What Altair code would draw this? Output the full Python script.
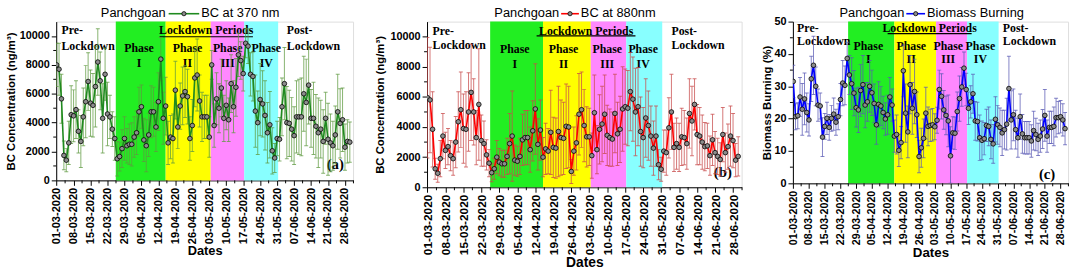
import altair as alt
import pandas as pd

START = pd.Timestamp("2020-03-01")

tick_labels = ["01-03-2020", "08-03-2020", "15-03-2020", "22-03-2020", "29-03-2020",
               "05-04-2020", "12-04-2020", "19-04-2020", "26-04-2020", "03-05-2020",
               "10-05-2020", "17-05-2020", "24-05-2020", "31-05-2020", "07-06-2020",
               "14-06-2020", "21-06-2020", "28-06-2020"]

# phase boundaries (days after 01-03-2020)
phase_bounds = [24.4, 45.0, 63.6, 77.4, 91.4]
phase_colors = ["#22ee22", "#ffff00", "#ff88ff", "#88ffff"]
phase_numerals = ["I", "II", "III", "IV"]

# ---------------- BC at 370 nm (ng/m3) ----------------
bc370 = [8000, 7700, 5650, 1730, 1400, 2600, 4550, 4470, 4900, 3400, 2700, 4400, 5450, 6850, 5350, 5200, 6500, 8200, 6900, 4300, 7350, 4600, 4400, 3550,
         2900, 1500, 1650, 2200, 2900, 2400, 2500, 2500, 3000, 3300, 4750, 5100, 2800, 2400, 3150, 4750, 4750, 3700, 5450, 8400, 4300,
         5150, 2600, 3000, 2900, 6250, 3700, 5150, 5850, 6150, 5800, 2900, 3800, 7100, 7300, 5500, 4400, 4400, 4400, 3000,
         8000, 3800, 5650, 5000, 6400, 4300, 5200, 4200, 6700, 5100, 6450, 8700, 8300, 7400,
         9500, 9300, 7350, 7200, 4800, 4000, 5600, 5300, 4500, 3300, 3850, 2050, 1550, 2900,
         2850, 5100, 6700, 4000, 3950, 3550, 3100, 4400, 4400, 4400, 6000, 5400, 6600, 4300, 4300, 3750, 3300, 3550, 2700, 4300, 2850, 2600, 2400, 3150, 4750, 3950, 4200, 2300, 2700, 2650]
bc370_err = [1500, 1800, 1700, 1000, 800, 1500, 2000, 1800, 2000, 1500, 1800, 2000, 2500, 2000, 2300, 2200, 2800, 2300, 2000, 2400, 1800, 2200, 1500, 1200,
             1500, 1200, 1000, 1300, 1500, 1200, 1400, 1500, 1400, 1500, 1700, 1500, 1500, 1800, 1500, 1800, 1700, 1700, 2000, 1500, 1800,
             2000, 1500, 1500, 1700, 2000, 1500, 1600, 2000, 1800, 1900, 1500, 1800, 2000, 2500, 1800, 1700, 1500, 1500, 1400,
             1000, 1500, 1800, 1700, 2000, 1600, 1700, 1500, 2000, 1800, 2000, 1500, 1300, 1200,
             1000, 1200, 1500, 1700, 2500, 2200, 2500, 2300, 2400, 2100, 2300, 1600, 1000, 1200,
             1500, 2000, 2500, 2500, 2300, 2200, 2000, 2500, 2600, 2700, 2600, 3000, 2700, 2000, 2500, 2200, 2400, 2000, 2200, 1800, 2500, 2000, 1700, 2000, 2600, 2400, 2200, 1600, 1500, 1400]

# ---------------- BC at 880 nm (ng/m3) ----------------
bc880 = [5950, 5800, 3850, 1230, 930, 1900, 3400, 2450, 2700, 2100, 1900, 3000, 4350, 5150, 3900, 3850, 5000, 6300, 5000, 3300, 5500, 3100, 2900, 2150,
         1600, 970, 1230, 2000, 1670, 1560, 1560, 2050, 2900, 3400, 1800, 1730, 2050, 3150, 3300, 3300, 2500, 3750, 5200, 2850, 3800,
         2000, 2550, 2400, 3650, 2650, 2600, 3700, 3300, 3250, 4050, 4000, 1050, 2400, 2950, 4850, 5150, 4100, 3350, 3350,
         2100, 4950, 2500, 3850, 4200, 4850, 3450, 3300, 3200, 4900, 3550, 3850, 5200, 5350,
         5250, 6350, 5850, 5000, 5350, 3700, 3300, 4600, 4100, 3400, 2600, 3400, 1500, 1200,
         2400, 2300, 3950, 5000, 2650, 2900, 2650, 3350, 3300, 2900, 4900, 4400, 5500, 3500, 3400, 3000, 2700, 2750, 2100, 3150, 2300, 2050, 1850, 3500, 2300, 2700, 3400, 3100, 1800, 2050]
bc880_err = [4000, 3500, 2500, 700, 600, 1200, 1500, 1200, 1200, 1000, 1100, 1700, 2000, 2500, 2300, 2500, 2600, 3200, 2200, 1800, 3700, 1700, 1500, 1000,
             900, 600, 700, 1100, 900, 900, 900, 1200, 2000, 3000, 1000, 1000, 1200, 1700, 1800, 1800, 1500, 2000, 3000, 1700, 2000,
             1300, 1700, 1500, 2800, 2000, 2000, 3000, 2500, 2400, 2800, 2700, 800, 1600, 1800, 2700, 2500, 2400, 2000, 1900,
             1500, 2500, 1600, 2300, 2500, 2600, 2000, 1900, 1800, 2600, 2100, 2200, 2800, 2500,
             2500, 2600, 2800, 2900, 2600, 2300, 2000, 2600, 2300, 2000, 1800, 2000, 1000, 800,
             1400, 1500, 2000, 2500, 1600, 1700, 1600, 1900, 1800, 1700, 2300, 2300, 1700, 2000, 1900, 1800, 1600, 1500, 1300, 1700, 1400, 1200, 1100, 1800, 1300, 1500, 2000, 1800, 1100, 1300]

# ---------------- Biomass burning (%) ----------------
bb = [31.5, 20.6, 20.9, 26.7, 22.9, 26.1, 21.9, 19.6, 32.3, 36.5, 30.0, 24.2, 23.9, 14.3, 17.6, 20.1, 17.3, 20.1, 21.4, 18.9, 20.6, 25.9, 31.0, 30.3,
      38.6, 33.5, 30.8, 27.9, 23.4, 22.7, 28.7, 30.5, 24.2, 25.2, 30.0, 28.0, 24.7, 18.1, 24.4, 23.9, 21.9, 19.9, 21.2, 26.7, 24.2,
      14.6, 15.1, 10.2, 12.6, 34.8, 21.7, 15.9, 30.5, 23.2, 28.4, 21.2, 8.3, 11.0, 13.9, 21.7, 17.6, 17.9, 18.1, 17.5,
      19.5, 29.0, 26.9, 22.7, 21.0, 19.3, 8.5, 15.6, 15.5, 22.2, 26.2, 29.8, 35.6, 29.0,
      23.2, 25.2, 27.7, 19.3, 19.1, 14.1, 13.3, 13.8, 17.9, 17.6, 13.6, 12.2, 19.8, 18.1,
      17.3, 15.6, 16.6, 18.3, 29.3, 19.6, 21.2, 16.6, 14.1, 20.6, 15.3, 14.1, 14.1, 14.1, 13.1, 16.3, 15.1, 13.6, 14.6, 16.8, 21.0, 14.6, 17.3, 17.3, 17.6, 20.3, 20.3, 20.6, 19.6, 16.9]
bb_err = [5, 4, 4, 6, 8, 8, 6, 5, 7, 9, 6, 5, 4, 6, 4, 5, 4, 4, 5, 4, 4, 5, 7, 6,
          5, 6, 8, 7, 6, 7, 8, 9, 7, 6, 8, 7, 6, 6, 7, 6, 5, 5, 6, 6, 5,
          5, 6, 5, 5, 8, 9, 8, 9, 8, 10, 7, 5, 6, 6, 8, 6, 5, 5, 4,
          4, 6, 7, 6, 6, 8, 9, 5, 5, 6, 7, 6, 5, 5,
          5, 5, 6, 6, 6, 7, 6, 5, 5, 6, 6, 6, 7, 6,
          6, 7, 6, 8, 10, 9, 8, 6, 6, 7, 6, 5, 5, 5, 5, 6, 5, 5, 5, 6, 8, 5, 5, 5, 6, 6, 5, 5, 5, 5]


def iso_day(d):
    return (START + pd.Timedelta(hours=round(d * 24))).strftime("%Y-%m-%dT%H:%M:%SZ")


def dt_from_label(s):
    d, m, y = s.split("-")
    return alt.DateTime(year=int(y), month=int(m), date=int(d), utc=True)


tick_vals = [dt_from_label(s) for s in tick_labels]
minor_days = [7 * i + 3.5 for i in range(len(tick_labels))]

X_DOMAIN = [alt.DateTime(year=2020, month=2, date=29, hours=20, utc=True),
            alt.DateTime(year=2020, month=7, date=1, hours=8, utc=True)]

SERIF = "Liberation Serif"
SANS = "Liberation Sans"


def panel(vals, errs, line_color, err_color, ytitle, ymax, ystep, yminor,
          w, h, series_name, lg, ann, letter, xlab_size=11, xtitle_size=13, ytitle_pad=3):
    df = pd.DataFrame({
        "date": [iso_day(i) for i in range(len(vals))],
        "v": vals,
        "lo": [max(v - e, 0) for v, e in zip(vals, errs)],
        "hi": [v + e for v, e in zip(vals, errs)],
    })
    xs = alt.Scale(type="utc", domain=X_DOMAIN, nice=False)
    ys = alt.Scale(domain=[0, ymax], nice=False)
    xaxis = alt.Axis(values=tick_vals, labelExpr="utcFormat(datum.value, '%d-%m-%Y')", labelAngle=270,
                     labelFontSize=xlab_size, labelFontWeight="bold", labelFont=SANS, labelColor="black",
                     title="Dates", titleFontSize=xtitle_size, titleFontWeight="bold", titleFont=SANS,
                     titleColor="black", titlePadding=1, tickSize=5, tickColor="black",
                     domainColor="black", grid=False, labelPadding=2, labelOverlap=False)
    yaxis = alt.Axis(values=list(range(0, ymax + 1, ystep)), format="d", labelFontSize=11,
                     labelFontWeight="bold", labelFont=SANS, labelColor="black",
                     title=ytitle, titleFontSize=11.5, titleFontWeight="bold", titleFont=SANS,
                     titleColor="black", titlePadding=ytitle_pad, tickSize=5, tickColor="black",
                     domainColor="black", grid=False, labelPadding=2)
    X = alt.X("date:T", scale=xs, axis=xaxis)
    Y = alt.Y("v:Q", scale=ys, axis=yaxis)

    ph = pd.DataFrame({
        "s": [iso_day(d) for d in phase_bounds[:-1]],
        "e": [iso_day(d) for d in phase_bounds[1:]],
        "c": phase_colors,
    })
    rects = alt.Chart(ph).mark_rect().encode(
        x=alt.X("s:T", scale=xs, axis=xaxis), x2="e:T",
        color=alt.Color("c:N", scale=None))

    errbars = alt.Chart(df).mark_rule(color=err_color, strokeWidth=1, opacity=0.75, clip=True).encode(
        x=X, y=alt.Y("lo:Q", scale=ys, axis=yaxis), y2="hi:Q")
    cap_lo = alt.Chart(df).mark_tick(color=err_color, orient="horizontal", size=4, thickness=1,
                                     opacity=0.75, clip=True).encode(x=X, y=alt.Y("lo:Q", scale=ys, axis=yaxis))
    cap_hi = alt.Chart(df).mark_tick(color=err_color, orient="horizontal", size=4, thickness=1,
                                     opacity=0.75, clip=True).encode(x=X, y=alt.Y("hi:Q", scale=ys, axis=yaxis))
    line = alt.Chart(df).mark_line(color=line_color, strokeWidth=1.6, clip=True).encode(x=X, y=Y)
    pts = alt.Chart(df).mark_circle(size=22, fill="#8c8c8c", stroke="black", strokeWidth=0.8,
                                    opacity=1, clip=True).encode(x=X, y=Y)

    # annotations
    adf = pd.DataFrame({
        "t": [a[0] for a in ann],
        "date": [iso_day(a[1]) for a in ann],
        "v": [a[2] for a in ann],
        "al": [a[3] for a in ann],
    })
    txt_left = alt.Chart(adf[adf.al == "left"]).mark_text(
        font=SERIF, fontWeight="bold", fontSize=12, align="left", baseline="middle", color="black").encode(
        x=X, y=Y, text="t:N")
    txt_center = alt.Chart(adf[adf.al == "center"]).mark_text(
        font=SERIF, fontWeight="bold", fontSize=12, align="center", baseline="middle", color="black").encode(
        x=X, y=Y, text="t:N")
    letter_df = pd.DataFrame({"t": [letter[0]], "date": [iso_day(letter[1])], "v": [letter[2]]})
    txt_letter = alt.Chart(letter_df).mark_text(
        font=SERIF, fontWeight="bold", fontSize=15, align="center", baseline="middle", color="black").encode(
        x=X, y=Y, text="t:N")
    ul = lg["underline"]
    ul_df = pd.DataFrame({"s": [iso_day(ul[0])], "e": [iso_day(ul[1])], "v": [ul[2]]})
    underline = alt.Chart(ul_df).mark_rule(color="black", strokeWidth=1.2).encode(
        x=alt.X("s:T", scale=xs, axis=xaxis), x2="e:T", y=alt.Y("v:Q", scale=ys, axis=yaxis))

    # minor ticks
    mx = pd.DataFrame({"date": [iso_day(d) for d in minor_days]})
    minor_x = alt.Chart(mx).mark_rule(color="black", strokeWidth=1).encode(
        x=alt.X("date:T", scale=xs, axis=xaxis), y=alt.value(h), y2=alt.value(h + 3))
    my = pd.DataFrame({"v": yminor})
    minor_y = alt.Chart(my).mark_rule(color="black", strokeWidth=1).encode(
        y=alt.Y("v:Q", scale=ys, axis=yaxis), x=alt.value(-3), x2=alt.value(0))

    # title-legend
    one = pd.DataFrame({"k": [0]})
    ty = -9
    t1 = alt.Chart(one).mark_text(font=SANS, fontSize=13, align="right", baseline="middle", color="black").encode(
        x=alt.value(lg["x"][0]), y=alt.value(ty), text=alt.value("Panchgoan"))
    lseg = alt.Chart(one).mark_rule(color=line_color, strokeWidth=1.6).encode(
        x=alt.value(lg["x"][1]), x2=alt.value(lg["x"][2]), y=alt.value(ty + 1))
    lpt = alt.Chart(one).mark_circle(size=18, fill="#8c8c8c", stroke="black", strokeWidth=0.8, opacity=1).encode(
        x=alt.value((lg["x"][1] + lg["x"][2]) / 2), y=alt.value(ty + 1))
    t2 = alt.Chart(one).mark_text(font=SANS, fontSize=13, align="left", baseline="middle", color="black").encode(
        x=alt.value(lg["x"][3]), y=alt.value(ty), text=alt.value(series_name))
    layers = [rects, minor_x, minor_y, txt_left, txt_center, underline, txt_letter,
              errbars, cap_lo, cap_hi, line, pts, t1, lseg, lpt, t2]
    return alt.layer(*layers).properties(width=w, height=h)


def phase_ann(day_centers, y_phase, y_num, pre_day, post_day, y1, y2, lp_center, lp_y):
    a = [("Pre-", pre_day, y1, "left"), ("Lockdown", pre_day, y2, "left"),
         ("Post-", post_day, y1, "left"), ("Lockdown", post_day, y2, "left"),
         ("Lockdown Periods", lp_center, lp_y, "center")]
    for c, n in zip(day_centers, phase_numerals):
        a.append(("Phase", c, y_phase, "center"))
        a.append((n, c, y_num, "center"))
    return a


pa = panel(bc370, bc370_err, "#1f8a1f", "#5f9a40", "BC Concentration (ng/m³)", 11000, 2000,
           [1000, 3000, 5000, 7000, 9000],
           301, 161, "BC at 370 nm",
           {"x": [111, 114, 145, 147], "underline": [42.5, 81.0, 9950]},
           phase_ann([34, 54, 70.6, 86.5], 9200, 8150, 2.0, 95.0, 10400, 9300, 61.7, 10400),
           ("(a)", 115, 1100), xlab_size=11.2, xtitle_size=13, ytitle_pad=3)
pb = panel(bc880, bc880_err, "#ff0000", "#c84a4a", "BC Concentration (ng/m³)", 11000, 2000,
           [1000, 3000, 5000, 7000, 9000],
           319, 168, "BC at 880nm",
           {"x": [134, 136, 154, 156], "underline": [42.5, 81.0, 10050]},
           phase_ann([34, 53, 70, 84], 9200, 8200, 2.0, 95.0, 10400, 9450, 61.8, 10400),
           ("(b)", 115, 1000), xlab_size=12, xtitle_size=14, ytitle_pad=5)
pc = panel(bb, bb_err, "#0000ff", "#5a5ab4", "Biomass Burning (%)", 50, 10,
           [5, 15, 25, 35, 45],
           279, 164, "Biomass Burning",
           {"x": [113, 115, 134, 136], "underline": [42.0, 79.4, 46.3]},
           phase_ann([33.4, 52.5, 69, 83.3], 42.5, 38.3, 1.7, 93.3, 48, 44, 60.7, 48),
           ("(c)", 113, 3), xlab_size=10.8, xtitle_size=13.5, ytitle_pad=1)

chart = alt.hconcat(pa, pb, pc, spacing=18).properties(
    padding={"top": 4, "left": 4, "right": 2, "bottom": 0}
).configure_view(stroke="black", strokeWidth=1.3).configure(background="white")

chart.save("out.html", embed_options={"renderer": "svg", "actions": False})
